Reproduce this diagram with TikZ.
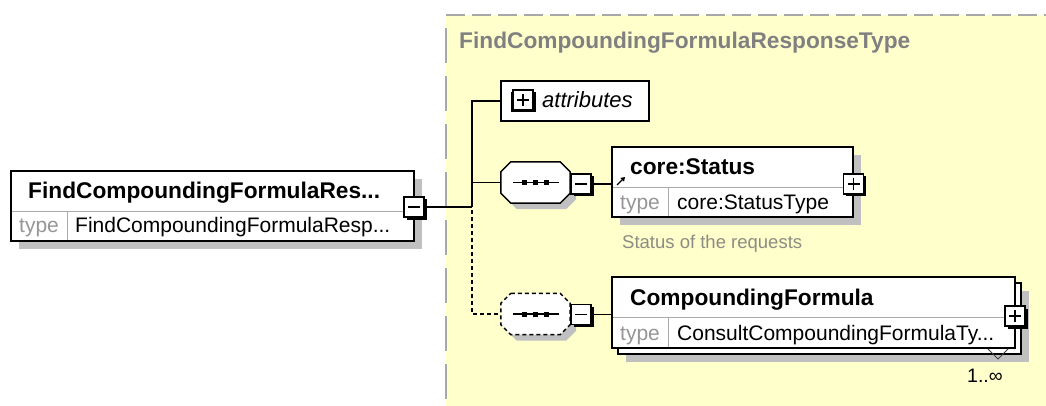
\documentclass[tikz,border=0pt]{standalone}
\usepackage{fontspec}
\setmainfont{Liberation Sans}
\usetikzlibrary{positioning,calc,shadows,arrows.meta}

\definecolor{schemabg}{RGB}{255,255,204}
\definecolor{shadowgray}{RGB}{192,192,192}
\definecolor{framegray}{RGB}{168,168,168}
\definecolor{labelgray}{RGB}{128,128,128}
\definecolor{typegray}{RGB}{150,150,150}
\definecolor{linegray}{RGB}{170,170,170}
\definecolor{docgray}{RGB}{140,140,130}

\tikzset{
  elembox/.style={draw, line width=1.5pt, fill=white, inner sep=0pt, minimum height=70pt},
  boxshadow/.style={drop shadow={shadow xshift=8pt, shadow yshift=-8pt, fill=shadowgray, opacity=1}},
  pmbox/.style={draw, line width=1.2pt, fill=white, minimum size=20pt, inner sep=0pt,
    drop shadow={shadow xshift=2.5pt, shadow yshift=-2.5pt, fill=black, opacity=1}},
  pmminus/.style={pmbox, path picture={
    \draw[line width=1.2pt] ([xshift=4pt]path picture bounding box.west) -- ([xshift=-4pt]path picture bounding box.east);}},
  pmplus/.style={pmbox, path picture={
    \draw[line width=1.2pt] ([xshift=4pt]path picture bounding box.west) -- ([xshift=-4pt]path picture bounding box.east);
    \draw[line width=1.2pt] ([yshift=-4pt]path picture bounding box.north) -- ([yshift=4pt]path picture bounding box.south);}},
  seqbox/.style={minimum width=69pt, minimum height=41pt, inner sep=0pt},
  conn/.style={line width=1.8pt},
  nametext/.style={font=\fontsize{22.7}{26}\selectfont\bfseries, inner sep=0pt, anchor=base west},
  typetext/.style={font=\fontsize{21}{24}\selectfont, text=typegray, inner sep=0pt, anchor=base west},
  valuetext/.style={font=\fontsize{21}{24}\selectfont, inner sep=0pt, anchor=base west},
}

% octagon outline, shadow and dotted bar of a sequence node
\newcommand{\seqoutline}[1]{([xshift=10pt]#1.north west) -- ([xshift=-10pt]#1.north east)
  -- ([yshift=-10pt]#1.north east) -- ([yshift=10pt]#1.south east)
  -- ([xshift=-10pt]#1.south east) -- ([xshift=10pt]#1.south west)
  -- ([yshift=10pt]#1.south west) -- ([yshift=-10pt]#1.north west) -- cycle}
\newcommand{\seqdraw}[2]{%
  \fill[shadowgray, transform canvas={shift={(6pt,-6pt)}}] \seqoutline{#1};
  \draw[line width=1.5pt, fill=white, #2] \seqoutline{#1};
  \draw[line width=1.5pt] ([xshift=-23pt]#1.center) -- ([xshift=23pt]#1.center);
  \foreach \dx in {-11,0,11}
    \fill[black] ([xshift=\dx pt-2.5pt, yshift=-2.5pt]#1.center) rectangle ([xshift=\dx pt+2.5pt, yshift=2.5pt]#1.center);
}

\begin{document}
\begin{tikzpicture}[x=1pt,y=-1pt]
  \useasboundingbox (0,0) rectangle (1046,406);

  % complex type frame
  \fill[schemabg] (446,15) rectangle (1046,406);
  \draw[framegray, line width=2pt, dash pattern=on 19pt off 7pt] (446,15) -- (1046,15);
  \draw[framegray, line width=2pt, dash pattern=on 35pt off 13pt] (446,28) -- (446,406);
  \node[nametext, text=labelgray] (typename) at (459,49) {FindCompoundingFormulaResponseType};

  % root element
  \node[elembox, boxshadow, minimum width=403pt] (root) at (212.5,206) {};
  \draw[linegray] (12,211) -- (413,211);
  \draw[linegray] (67,211) -- (67,240);
  \node[nametext] (rootname) at (28,198) {FindCompoundingFormulaRes...};
  \node[typetext] (roottype) at (19,232) {type};
  \node[valuetext] (rootvalue) at (75,232) {FindCompoundingFormulaResp...};
  \node[pmminus] (rootpm) at (414,207) {};

  % attributes
  \node[draw, line width=1.5pt, fill=white, minimum width=148pt, minimum height=40pt, inner sep=0pt] (attrs) at (575,101) {};
  \node[pmplus, drop shadow={shadow xshift=-2.5pt, shadow yshift=-2.5pt, fill=black, opacity=1}] (attrspm) at (523,100) {};
  \node[valuetext, font=\fontsize{22}{24}\selectfont\itshape] (attrname) at (542,108) {attributes};

  % sequences
  \node[seqbox] (seqa) at (535.5,182.5) {};
  \seqdraw{seqa}{}
  \node[pmminus] (seqapm) at (581,184) {};
  \node[seqbox] (seqb) at (535.5,314) {};
  \seqdraw{seqb}{dash pattern=on 4pt off 3pt}
  \node[pmminus] (seqbpm) at (581,314.5) {};

  % core:Status
  \node[elembox, boxshadow, minimum width=241pt] (status) at (732.5,182) {};
  \draw[linegray] (613,187) -- (852,187);
  \draw[linegray] (668,187) -- (668,216);
  \draw[-{Triangle[length=4pt,width=5pt]}, line width=1.3pt] (617,185) -- (625,177);
  \node[nametext] (statusname) at (630,175) {core:Status};
  \node[typetext] (statustype) at (620,210) {type};
  \node[valuetext] (statusvalue) at (677,210) {core:StatusType};
  \node[pmplus] (statuspm) at (853.5,184) {};
  \node[valuetext, font=\fontsize{18.5}{20}\selectfont, text=docgray] (statusdoc) at (622,248) {Status of the requests};

  % CompoundingFormula
  \node[elembox, boxshadow, minimum width=403pt, minimum height=71pt] (cfback) at (819.5,318.5) {};
  \node[elembox, minimum width=403pt, minimum height=71pt] (cf) at (813.5,312.5) {};
  \draw[linegray] (613,317) -- (1014,317);
  \draw[linegray] (668,317) -- (668,347);
  \node[nametext] (cfname) at (630,305) {CompoundingFormula};
  \node[typetext] (cftype) at (620,340) {type};
  \node[valuetext] (cfvalue) at (677,340) {ConsultCompoundingFormulaTy...};
  \node[pmplus] (cfpm) at (1015,316) {};
  \draw[black!75, line width=1pt] (988,349) -- (998,359) -- (1008,349);
  \node[valuetext, font=\fontsize{19.5}{22}\selectfont] (cfmult) at (967,382) {1..∞};

  % connectors
  \coordinate (trunk) at (472,207);
  \draw[conn] (rootpm.east) -- (trunk);
  \draw[conn] (trunk) |- (attrs.west);
  \draw[conn] (trunk) |- (seqa.west);
  \draw[conn, dash pattern=on 4pt off 3pt] ([yshift=-3pt]trunk) |- (seqb.west);
  \draw[conn] (seqapm.east) -- (seqapm.east -| status.west);
  \draw[conn] (seqbpm.east) -- (seqbpm.east -| cf.west);
\end{tikzpicture}
\end{document}
